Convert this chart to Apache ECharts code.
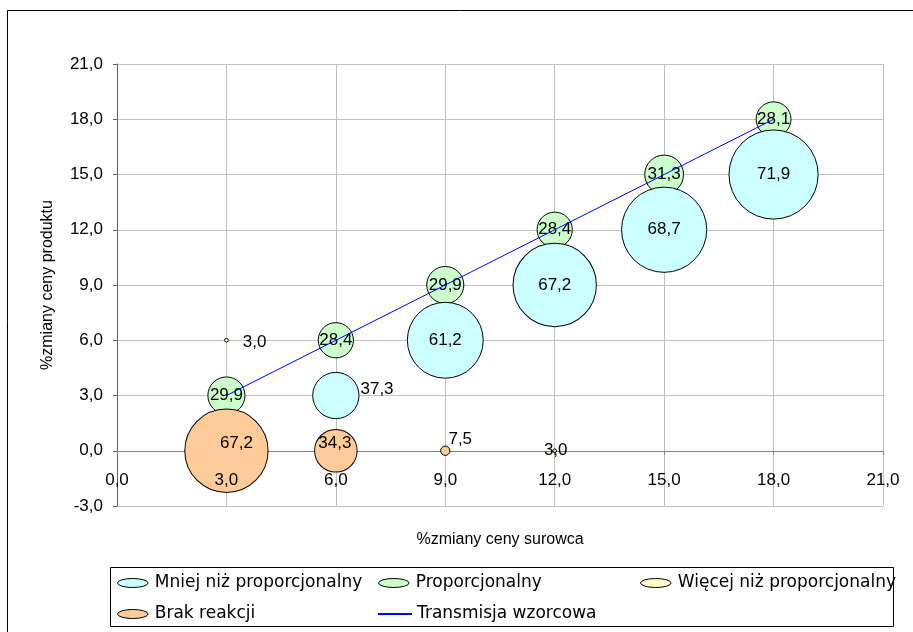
<!DOCTYPE html>
<html>
<head>
<meta charset="utf-8">
<script src="https://cdn.jsdelivr.net/npm/echarts@6/dist/echarts.min.js"></script>
<style>html,body{margin:0;padding:0;background:#fff}#c{width:913px;height:632px}</style>
</head>
<body>
<div id="c"></div>
<script>
// ---- data ----
var seriesNames = ['Mniej niż proporcjonalny', 'Proporcjonalny', 'Więcej niż proporcjonalny', 'Brak reakcji', 'Transmisja wzorcowa'];
var mniejX = [6, 9, 12, 15, 18];
var mniejY = [3, 6, 9, 12, 15];
var mniejS = [37.3, 61.2, 67.2, 68.7, 71.9];
var propX = [3, 6, 9, 12, 15, 18];
var propY = [3, 6, 9, 12, 15, 18];
var propS = [29.9, 28.4, 29.9, 28.4, 31.3, 28.1];
var wiecejX = [3];
var wiecejY = [6];
var wiecejS = [3.0];
var brakX = [3, 6, 9, 12];
var brakY = [0, 0, 0, 0];
var brakS = [67.2, 34.3, 7.5, 3.0];
var lineX = [3, 6, 9, 12, 15, 18];
var lineY = [3, 6, 9, 12, 15, 18];
var xTicks = [0, 3, 6, 9, 12, 15, 18, 21];
var yTicks = [-3, 0, 3, 6, 9, 12, 15, 18, 21];

var FONT = '"Liberation Sans", Arial, sans-serif';
var LFONT = '"DejaVu Sans", sans-serif';
function fmt(v) { return Number(v).toFixed(1).replace('.', ','); }
function pts(xs, ys, ss) {
  return xs.map(function (x, i) { return ss ? [x, ys[i], ss[i]] : [x, ys[i]]; });
}
var labelBase = { show: true, position: 'inside', color: '#000', fontSize: 17, fontFamily: FONT,
  formatter: function (p) { return fmt(p.value[2]); } };
function withLabels(data, tweaks) {
  return data.map(function (d, i) {
    return tweaks[i] ? { value: d, label: tweaks[i] } : d;
  });
}
var sizeK = 1.24;
function bubbleSize(d) { return d[2] * sizeK; }
var ellipse = 'path://M0,5 A17,5 0 1,1 34,5 A17,5 0 1,1 0,5 Z';

var gridTop = 64, gridBottom = 126, H = 632;
var plotH = H - gridTop - gridBottom;
var xMin = xTicks[0], xMax = xTicks[xTicks.length - 1];
var yMin = yTicks[0], yMax = yTicks[yTicks.length - 1];
var xAxisOffset = -plotH * (0 - yMin) / (yMax - yMin); // axis crosses at y = 0

var chart = echarts.init(document.getElementById('c'), null, { renderer: 'canvas' });
var option = {
  animation: false,
  backgroundColor: '#fff',
  textStyle: { fontFamily: FONT },
  grid: { left: 117, right: 30, top: gridTop, bottom: gridBottom, containLabel: false },
  xAxis: [
    {
      type: 'value', min: xMin, max: xMax, interval: 3,
      position: 'bottom', offset: xAxisOffset,
      name: '%zmiany ceny surowca', nameLocation: 'middle', nameGap: 81,
      nameTextStyle: { color: '#000', fontSize: 16, fontFamily: FONT },
      axisLine: { onZero: false, lineStyle: { color: '#808080', width: 1 } },
      axisTick: { show: true, inside: false, length: 4, lineStyle: { color: '#808080' } },
      axisLabel: { show: false },
      splitLine: { show: true, lineStyle: { color: '#C0C0C0', width: 1 } }
    },
    {
      type: 'value', min: xMin, max: xMax, interval: 3, z: 10,
      position: 'bottom', offset: xAxisOffset,
      axisLine: { show: false, onZero: false },
      axisTick: { show: false },
      axisLabel: { color: '#000', fontSize: 17, fontFamily: FONT, margin: 21, formatter: fmt },
      splitLine: { show: false }
    }
  ],
  yAxis: {
    type: 'value', min: yMin, max: yMax, interval: 3,
    name: '%zmiany ceny produktu', nameLocation: 'middle', nameGap: 61,
    nameTextStyle: { color: '#000', fontSize: 16, fontFamily: FONT },
    axisLine: { show: true, onZero: false, lineStyle: { color: '#606060', width: 1 } },
    axisTick: { show: true, inside: false, length: 4, lineStyle: { color: '#606060' } },
    axisLabel: { color: '#000', fontSize: 17, fontFamily: FONT, margin: 14, formatter: fmt },
    splitLine: { show: true, lineStyle: { color: '#C0C0C0', width: 1 } }
  },
  legend: [
    { data: [seriesNames[0]], left: 117, top: 574 },
    { data: [seriesNames[1]], left: 378, top: 574 },
    { data: [seriesNames[2]], left: 640, top: 574 },
    { data: [seriesNames[3]], left: 117, top: 605 },
    { data: [seriesNames[4]], left: 378, top: 605 }
  ].map(function (l, i) {
    var isLine = i === 4;
    return Object.assign(l, {
      orient: 'horizontal', padding: 0, itemGap: 0,
      itemWidth: 34, itemHeight: isLine ? 2 : 9,
      icon: isLine ? 'rect' : ellipse,
      itemStyle: isLine ? { color: '#0000FF', borderWidth: 0 } : { borderColor: '#000', borderWidth: 1 },
      textStyle: { color: '#000', fontSize: 17, lineHeight: 18, fontFamily: LFONT }
    });
  }),
  graphic: [
    { type: 'rect', shape: { x: 7.5, y: 10.5, width: 1000, height: 1000 }, style: { fill: 'none', stroke: '#000', lineWidth: 1 }, silent: true, z: -1 },
    { type: 'rect', shape: { x: 110.5, y: 567.5, width: 783, height: 59 }, style: { fill: 'none', stroke: '#000', lineWidth: 1 }, silent: true }
  ],
  series: [
    {
      name: seriesNames[1], type: 'scatter', z: 2,
      data: pts(propX, propY, propS),
      symbolSize: bubbleSize,
      itemStyle: { color: '#CCFFCC', borderColor: '#000', borderWidth: 1, opacity: 1 },
      label: labelBase
    },
    {
      name: seriesNames[0], type: 'scatter', z: 3,
      data: withLabels(pts(mniejX, mniejY, mniejS), { 0: { position: 'right', distance: 1, offset: [0, -6] } }),
      symbolSize: bubbleSize,
      itemStyle: { color: '#CCFFFF', borderColor: '#000', borderWidth: 1, opacity: 1 },
      label: labelBase
    },
    {
      name: seriesNames[2], type: 'scatter', z: 3,
      data: withLabels(pts(wiecejX, wiecejY, wiecejS), { 0: { position: 'right', distance: 14, offset: [0, 2] } }),
      symbolSize: bubbleSize,
      itemStyle: { color: '#FFFFCC', borderColor: '#000', borderWidth: 1, opacity: 1 },
      label: labelBase
    },
    {
      name: seriesNames[3], type: 'scatter', z: 4,
      data: withLabels(pts(brakX, brakY, brakS), {
        0: { offset: [10, -7] },
        1: { offset: [-1, -7] },
        2: { position: 'right', distance: -2, offset: [0, -11] },
        3: { offset: [1, 0] }
      }),
      symbolSize: bubbleSize,
      itemStyle: { color: '#FFCC99', borderColor: '#000', borderWidth: 1, opacity: 1 },
      label: labelBase
    },
    {
      name: seriesNames[4], type: 'line', z: 5,
      data: pts(lineX, lineY),
      symbol: 'none', showSymbol: false,
      lineStyle: { color: '#0000FF', width: 1 },
      itemStyle: { color: '#0000FF' }
    }
  ]
};
chart.setOption(option);
</script>
</body>
</html>
